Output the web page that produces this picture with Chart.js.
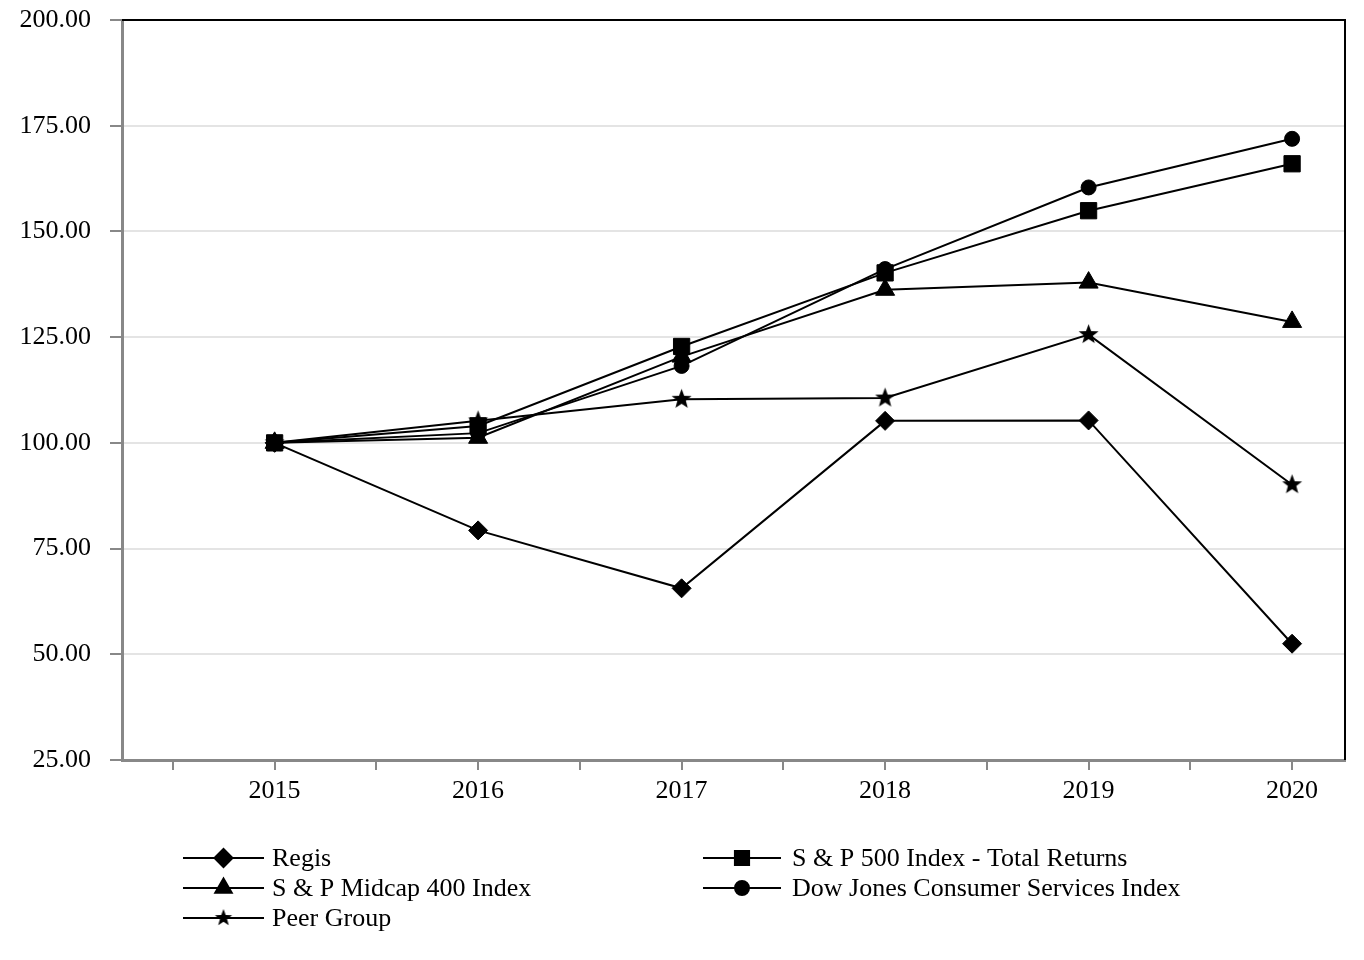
<!DOCTYPE html>
<html>
<head>
<meta charset="utf-8">
<script src="https://cdn.jsdelivr.net/npm/chart.js@4"></script>
<style>
  html, body { margin: 0; padding: 0; background: #fff; }
  #wrap { width: 1364px; height: 960px; }
</style>
</head>
<body>
<div id="wrap"><canvas id="chart" width="1364" height="960"></canvas></div>
<script>
const years = [2015, 2016, 2017, 2018, 2019, 2020];
const regis = [100, 79.3, 65.6, 105.2, 105.3, 52.5];
const sp500 = [100, 104.0, 122.8, 140.2, 154.9, 166.0];
const midcap = [100, 101.2, 120.4, 136.2, 137.9, 128.6];
const dowJones = [100, 102.3, 118.2, 141.1, 160.4, 171.9];
const peerGroup = [100, 105.2, 110.3, 110.6, 125.6, 90.1];
const seriesNames = ['Regis', 'S & P 500 Index - Total Returns', 'S & P Midcap 400 Index',
    'Dow Jones Consumer Services Index', 'Peer Group'];
const yTicks = [25, 50, 75, 100, 125, 150, 175, 200];

const FONT = { family: '"Liberation Serif", "Times New Roman", serif', size: 26 };

// filled five point star, used as a point style
function makeStar(outer) {
    const c = document.createElement('canvas');
    const s = Math.ceil(outer * 2 + 2);
    c.width = s; c.height = s;
    const g = c.getContext('2d');
    const inner = outer * 0.42;
    g.beginPath();
    for (let i = 0; i < 10; i++) {
        const r = i % 2 ? inner : outer;
        const a = -Math.PI / 2 + i * Math.PI / 5;
        g.lineTo(s / 2 + r * Math.cos(a), s / 2 + r * Math.sin(a));
    }
    g.closePath();
    g.fillStyle = '#000';
    g.fill();
    return c;
}
const star = makeStar(10.5);
const starSmall = makeStar(9);

function series(label, data, style, radius) {
    return {
        label: label,
        data: data.map((v, i) => ({ x: years[i], y: v })),
        borderColor: '#000',
        backgroundColor: '#000',
        borderWidth: 2,
        pointStyle: style,
        pointRadius: radius,
        pointBorderWidth: 1,
        pointHoverRadius: radius,
        tension: 0
    };
}

const legendStyles = [
    { style: 'rectRot', r: 9 },
    { style: 'rect', r: 10 },
    { style: 'triangle', r: 9.5 },
    { style: 'circle', r: 7 },
    { style: starSmall, r: 8 }
];

const framePlugin = {
    id: 'frame',
    afterDatasetsDraw(chart) {
        const { ctx, chartArea: a } = chart;
        ctx.save();
        ctx.strokeStyle = '#000';
        ctx.lineWidth = 2;
        ctx.beginPath();
        ctx.moveTo(a.left, a.top);
        ctx.lineTo(a.right, a.top);
        ctx.lineTo(a.right, a.bottom);
        ctx.stroke();
        ctx.restore();
    },
    afterDraw(chart) {
        const ctx = chart.ctx;
        const cols = [{ x0: 183, x1: 264, tx: 272 }, { x0: 703, x1: 781, tx: 792 }];
        ctx.save();
        ctx.font = FONT.size + 'px ' + FONT.family;
        ctx.textBaseline = 'middle';
        ctx.fillStyle = '#000';
        chart.data.datasets.forEach((ds, i) => {
            const col = cols[i % 2];
            const y = 858 + Math.floor(i / 2) * 30;
            ctx.strokeStyle = '#000';
            ctx.lineWidth = 2;
            ctx.beginPath();
            ctx.moveTo(col.x0, y);
            ctx.lineTo(col.x1, y);
            ctx.stroke();
            const ls = legendStyles[i];
            Chart.helpers.drawPoint(ctx, { pointStyle: ls.style, radius: ls.r, borderWidth: 1, rotation: 0 },
                (col.x0 + col.x1) / 2, y);
            ctx.fillStyle = '#000';
            ctx.fillText(ds.label, col.tx, y + 1);
        });
        ctx.restore();
    }
};

new Chart(document.getElementById('chart'), {
    type: 'line',
    data: {
        datasets: [
            series(seriesNames[0], regis, 'rectRot', 9.5),
            series(seriesNames[1], sp500, 'rect', 11.5),
            series(seriesNames[2], midcap, 'triangle', 11),
            series(seriesNames[3], dowJones, 'circle', 7.5),
            series(seriesNames[4], peerGroup, star, 10)
        ]
    },
    options: {
        responsive: false,
        animation: false,
        events: [],
        layout: { padding: { top: 20, right: 19, left: 0, bottom: 0 } },
        plugins: { legend: { display: false }, tooltip: { enabled: false } },
        scales: {
            x: {
                type: 'linear',
                min: 2014.25,
                max: 2020.26,
                afterBuildTicks: s => {
                    s.ticks = [];
                    for (let v = years[0] - 0.5; v <= years[years.length - 1] + 1e-9; v += 0.5) {
                        s.ticks.push({ value: v });
                    }
                },
                afterFit: s => { s.height = 200; s.paddingLeft = 0; s.paddingRight = 0; },
                ticks: {
                    autoSkip: false,
                    maxRotation: 0,
                    padding: 6,
                    color: '#000',
                    font: FONT,
                    callback: v => Number.isInteger(v) ? String(v) : ''
                },
                grid: {
                    drawOnChartArea: false,
                    tickLength: 10,
                    tickColor: '#888',
                    lineWidth: 2
                },
                border: { color: '#888', width: 3 }
            },
            y: {
                min: 25,
                max: 200,
                afterBuildTicks: s => { s.ticks = yTicks.map(v => ({ value: v })); },
                afterFit: s => { s.width = 122; s.paddingTop = 0; s.paddingBottom = 0; },
                ticks: {
                    padding: 19,
                    color: '#000',
                    font: FONT,
                    callback: v => v.toFixed(2)
                },
                grid: {
                    color: '#e4e4e4',
                    lineWidth: 2,
                    tickLength: 12,
                    tickColor: '#888'
                },
                border: { color: '#888', width: 3 }
            }
        }
    },
    plugins: [framePlugin]
});
</script>
</body>
</html>
